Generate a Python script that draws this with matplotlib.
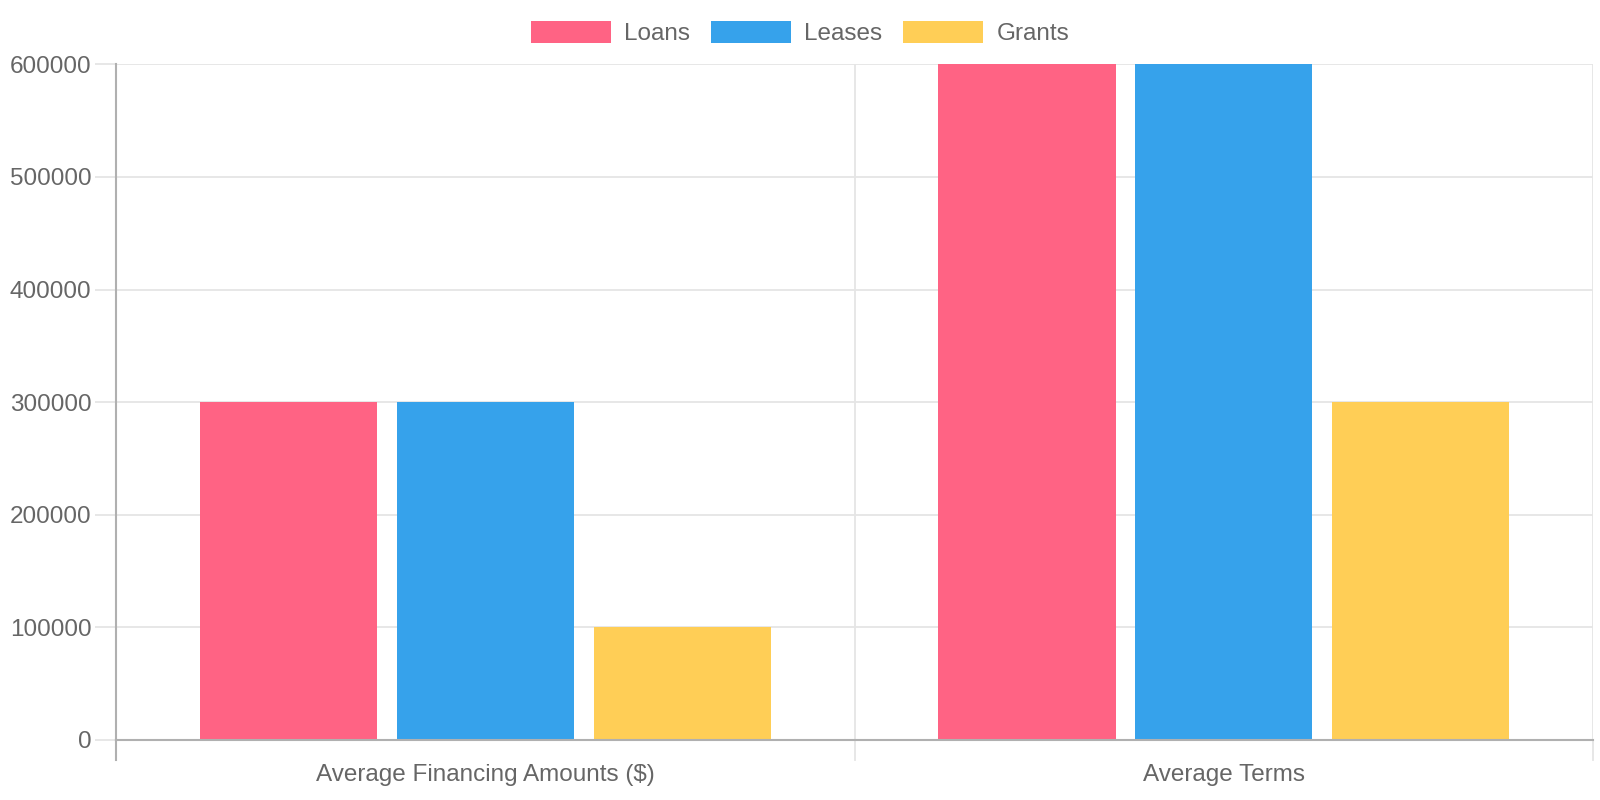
import matplotlib
matplotlib.use("Agg")
import matplotlib.pyplot as plt
import numpy as np

plt.rcParams['font.family'] = ['Liberation Sans', 'DejaVu Sans']

categories = ["Average Financing Amounts ($)", "Average Terms"]
series_names = ["Loans", "Leases", "Grants"]
loans = [300000, 600000]
leases = [300000, 600000]
grants = [100000, 300000]
y_ticks = [0, 100000, 200000, 300000, 400000, 500000, 600000]

colors = ["#FF6384", "#36A2EB", "#FFCE56"]
text_color = "#666666"
grid_color = "#e5e5e5"
axis_color = "#b0b0b0"
fs = 17.5

fig = plt.figure(figsize=(16, 8), dpi=100)
ax = fig.add_axes([116.3 / 1600, 60 / 800, (1593 - 116.3) / 1600, (740 - 64.3) / 800])

x = np.arange(len(categories))
slot = 0.8 / 3
width = slot * 0.9
handles = []
for i, (name, vals) in enumerate(zip(series_names, [loans, leases, grants])):
    b = ax.bar(x + (i - 1) * slot, vals, width=width, color=colors[i], label=name, zorder=3)
    handles.append(b)

ax.set_xlim(-0.5, len(categories) - 0.5)
ax.set_ylim(0, 600000)
ax.set_yticks(y_ticks)
ax.set_yticklabels([str(v) for v in y_ticks])
ax.set_xticks(x)
ax.set_xticklabels(categories)

# horizontal grid
for v in y_ticks[1:]:
    ax.axhline(v, color=grid_color, lw=1.3, zorder=1)
# vertical grid between categories
for xv in np.arange(0.5, len(categories), 1.0):
    ax.axvline(xv, color=grid_color, lw=1.3, zorder=1)
    ax.plot([xv, xv], [0, -0.029], transform=ax.get_xaxis_transform(), color=grid_color,
            lw=1.3, clip_on=False)
ax.plot([-0.5, -0.5], [0, -0.029], transform=ax.get_xaxis_transform(), color=axis_color,
        lw=1.5, clip_on=False)

for s in ["top", "right"]:
    ax.spines[s].set_visible(False)
for s in ["left", "bottom"]:
    ax.spines[s].set_color(axis_color)
    ax.spines[s].set_linewidth(1.5)
    ax.spines[s].set_zorder(4)

ax.tick_params(axis="y", length=15, width=1.3, color=grid_color, pad=3,
               labelsize=fs, labelcolor=text_color)
ax.tick_params(axis="x", length=0, pad=17, labelsize=fs, labelcolor=text_color)

ax.legend(handles=handles, loc="upper center", bbox_to_anchor=(0.5, 1.0 + 3.5 / 800),
          bbox_transform=fig.transFigure, ncol=3, frameon=False, fontsize=fs,
          handlelength=3.3, handleheight=1.0, handletextpad=0.55, columnspacing=0.85,
          labelcolor=text_color, borderpad=0.5)

fig.savefig("out.png", dpi=100, facecolor="white")
